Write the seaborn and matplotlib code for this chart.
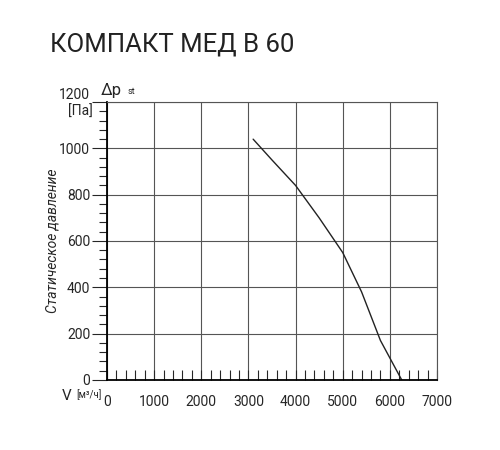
import pandas as pd
import matplotlib.pyplot as plt
import seaborn as sns
from matplotlib.ticker import MultipleLocator

sns.set_style('white')
plt.rcParams['font.family'] = ['Roboto', 'DejaVu Sans']

# данные кривой
flow = [3100, 3500, 4000, 4500, 5000, 5400, 5800, 6250]
pressure = [1040, 950, 840, 700, 550, 380, 170, 0]
title = 'КОМПАКТ МЕД В 60'

df = pd.DataFrame({'V': flow, 'dp': pressure})

fig = plt.figure(figsize=(5, 4.5), dpi=100)
ax = fig.add_axes([0.214, 0.156, 0.66, 0.617])

sns.lineplot(data=df, x='V', y='dp', color='#222222', linewidth=1.0, ax=ax)

ax.set_xlim(0, 7000)
ax.set_ylim(0, 1200)
ax.xaxis.set_major_locator(MultipleLocator(1000))
ax.xaxis.set_minor_locator(MultipleLocator(200))
ax.yaxis.set_major_locator(MultipleLocator(200))
ax.yaxis.set_minor_locator(MultipleLocator(40))
ax.grid(True, which='major', color='#555555', linewidth=0.8)
ax.set_axisbelow(True)

for s in ['top', 'right']:
    ax.spines[s].set_color('#555555')
    ax.spines[s].set_linewidth(0.8)
for s in ['left', 'bottom']:
    ax.spines[s].set_linewidth(1.3)
    ax.spines[s].set_color('black')

ax.tick_params(left=True, bottom=True, which='both')
ax.tick_params(axis='y', which='major', length=11, width=0.8, direction='out', labelsize=10, pad=1)
ax.tick_params(axis='y', which='minor', length=6, width=0.8, direction='out')
ax.tick_params(axis='x', which='major', length=7, width=0.8, direction='in', labelsize=10, pad=11)
ax.tick_params(axis='x', which='minor', length=7, width=0.8, direction='in')

ax.set_xlabel('')
ax.set_ylabel('Статическое давление', fontsize=10, style='italic', labelpad=0)

# верхняя метка 1200 чуть выше риски
fig.canvas.draw()
for t in ax.yaxis.get_major_ticks():
    if t.label1.get_text() == '1200':
        t.label1.set_va('bottom')

fig.text(0.222, 0.79, 'Δp', fontsize=12, ha='center')
fig.text(0.256, 0.79, 'st', fontsize=6.5, ha='left')
fig.text(0.16, 0.768, '[Па]', fontsize=10, ha='center', va='top')
fig.text(0.124, 0.11, 'V', fontsize=11, ha='left')
fig.text(0.153, 0.115, '[м³/ч]', fontsize=7, ha='left')

fig.text(0.1, 0.885, title, fontsize=18.5, ha='left', color='#222222')

plt.savefig('out.png', dpi=100)
